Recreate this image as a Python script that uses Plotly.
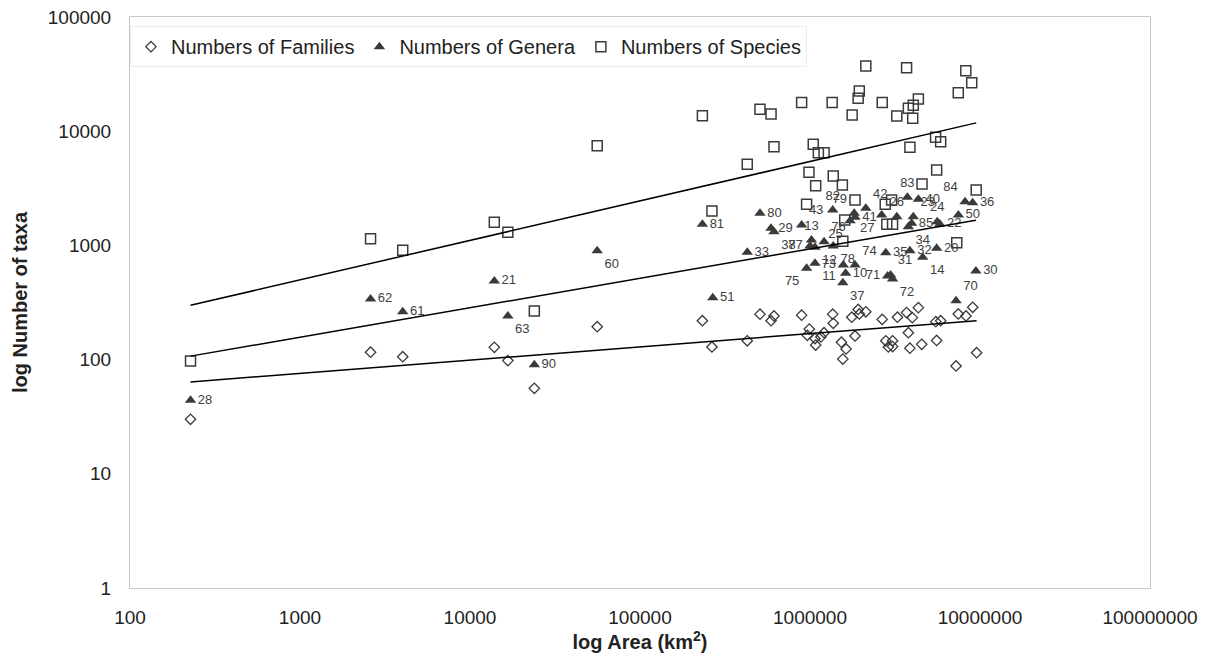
import numpy as np
import plotly.graph_objects as go

# ---------------- data ----------------
fam_area = [227, 2600, 4020, 13900, 16700, 23900, 56000, 232800, 265000, 427500,
            508000, 590000, 614000, 893000, 990000, 964000, 1070000, 1080000, 1160000, 1210000,
            1360000, 1370000, 1530000, 1630000, 1560000, 1760000, 1840000, 1920000, 1950000, 2130000,
            2660000, 2790000, 2890000, 3060000, 3060000, 3270000, 3700000, 3790000, 4000000, 3870000,
            4340000, 4540000, 5500000, 5870000, 5560000, 7230000, 7450000, 8270000, 9060000, 9550000]
fam_vals = [30, 116, 106, 128, 98, 56, 194, 219, 129, 146,
            250, 219, 241, 245, 185, 163, 153, 134, 158, 172,
            250, 208, 142, 124, 101, 235, 161, 275, 251, 262,
            225, 146, 129, 146, 130, 235, 258, 172, 233, 126,
            285, 136, 215, 219, 147, 88, 251, 241, 287, 115]

gen_labels = ["28", "62", "61", "21", "63", "90", "60", "81", "51", "33",
              "80", "29", "38", "43", "75", "77", "13", "12", "11", "76",
              "82", "78", "37", "73", "10", "79", "41", "74", "25", "42",
              "27", "26", "83", "40", "23", "85", "34", "24", "22", "50",
              "84", "36", "35", "32", "20", "14", "71", "31", "72", "30", "70"]
gen_area = [227, 2600, 4020, 13900, 16700, 23900, 56000, 232800, 268000, 427500,
            508000, 590000, 614000, 893000, 955000, 1000000, 1020000, 1070000, 1070000, 1210000,
            1360000, 1370000, 1560000, 1570000, 1620000, 1820000, 1840000, 1840000, 1720000, 2130000,
            2640000, 3240000, 3740000, 4340000, 4050000, 3960000, 3790000, 5600000, 5800000, 7460000,
            8170000, 9050000, 2790000, 3870000, 5560000, 4600000, 2860000, 2980000, 3060000, 9460000, 7230000]
gen_vals = [44, 340, 262, 488, 241, 90, 900, 1530, 348, 871,
            1910, 1413, 1318, 1510, 631, 990, 1115, 962, 697, 1077,
            2040, 990, 471, 673, 570, 1910, 1760, 673, 1640, 2110,
            1845, 1782, 2640, 2535, 1782, 1560, 1460, 1615, 1540, 1845,
            2415, 2365, 863, 900, 944, 787, 540, 551, 508, 597, 328]
gen_textpos = ["middle right", "middle right", "middle right", "middle right", "bottom right",
               "middle right", "bottom right", "middle right", "middle right", "middle right",
               "middle right", "middle right", "bottom right", "top right", "bottom left",
               "middle left", "top center", "bottom right", "bottom right", "top right",
               "top center", "bottom right", "bottom right", "middle left", "middle right",
               "top left", "middle right", "top right", "bottom left", "top right",
               "bottom left", "top center", "top center", "middle right", "top right",
               "middle right", "bottom right", "top center", "middle right", "middle right",
               "top left", "middle right", "middle right", "middle right", "middle right",
               "bottom right", "middle left", "top right", "bottom right", "middle right", "top right"]

spe_area = [227, 2600, 4020, 13900, 16700, 23900, 56000, 232800, 265000, 427500,
            508000, 590000, 614000, 893000, 955000, 986000, 1045000, 1080000, 1120000, 1210000,
            1350000, 1370000, 1550000, 1560000, 1600000, 1770000, 1840000, 1920000, 1950000, 2130000,
            2660000, 2770000, 2830000, 3020000, 3060000, 3240000, 3700000, 3790000, 3870000, 4020000,
            4050000, 4340000, 4560000, 5480000, 5560000, 5870000, 7300000, 7450000, 8250000, 8940000, 9500000]
spe_vals = [97, 1146, 906, 1593, 1303, 267, 7460, 13680, 2000, 5130,
            15600, 14170, 7310, 17800, 2290, 4360, 7670, 3330, 6490, 6490,
            17800, 4050, 3380, 1087, 1667, 13870, 2500, 19400, 22500, 37200,
            17800, 2290, 1530, 2500, 1530, 13590, 36000, 15850, 7230, 12970,
            16900, 19100, 3450, 8860, 4570, 8090, 1056, 21700, 33900, 26600, 3055]

# power trendlines y = a * x^b, coefficients
trend_a = [34.0, 26.5, 45.8]      # families, genera, species
trend_b = [0.116, 0.2577, 0.3457]

x_tickvals = [100, 1000, 10000, 100000, 1000000, 10000000, 100000000]
x_ticktext = ["100", "1000", "10000", "100000", "1000000", "10000000", "100000000"]
y_tickvals = [1, 10, 100, 1000, 10000, 100000]
y_ticktext = ["1", "10", "100", "1000", "10000", "100000"]

# ---------------- figure ----------------
FONT = "Liberation Sans, Arial, sans-serif"
MARK = "#3a3a3a"

fig = go.Figure()

fig.add_trace(go.Scatter(x=fam_area, y=fam_vals, mode="markers", name="Numbers of Families",
                         marker=dict(symbol="diamond-open", size=8, color=MARK, line=dict(width=1.3, color=MARK))))
fig.add_trace(go.Scatter(x=gen_area, y=gen_vals, mode="markers+text", name="Numbers of Genera",
                         text=gen_labels, textposition=gen_textpos,
                         textfont=dict(family=FONT, size=13, color="#404040"),
                         marker=dict(symbol="triangle-up", size=10, color=MARK)))
fig.add_trace(go.Scatter(x=spe_area, y=spe_vals, mode="markers", name="Numbers of Species",
                         marker=dict(symbol="square-open", size=10, color=MARK, line=dict(width=1.5, color=MARK))))

for xs, a, b in [(fam_area, trend_a[0], trend_b[0]),
                 (gen_area, trend_a[1], trend_b[1]),
                 (spe_area, trend_a[2], trend_b[2])]:
    tx = np.array([min(xs), max(xs)], dtype=float)
    ty = a * tx ** b
    fig.add_trace(go.Scatter(x=tx, y=ty, mode="lines", showlegend=False, hoverinfo="skip",
                             line=dict(color="black", width=1.5)))

fig.update_layout(
    width=1205, height=672,
    margin=dict(l=130, r=55, t=17, b=84),
    paper_bgcolor="white", plot_bgcolor="white",
    font=dict(family=FONT, size=19, color="#222222"),
    legend=dict(orientation="h", x=0.0, y=0.984, xanchor="left", yanchor="top",
                bgcolor="white", bordercolor="#ececec", borderwidth=1,
                font=dict(family=FONT, size=20, color="#222222"), itemwidth=30),
    xaxis=dict(type="log", range=[2, 8], tickvals=x_tickvals, ticktext=x_ticktext,
               showgrid=False, zeroline=False, showline=True, linecolor="#c8c8c8", linewidth=1,
               mirror=True, ticks="", tickfont=dict(size=19), automargin=False,
               ticklabelstandoff=12,
               title=dict(text="<b>log Area (km<sup>2</sup>)</b>", font=dict(size=20), standoff=6)),
    yaxis=dict(type="log", range=[0, 5], tickvals=y_tickvals, ticktext=y_ticktext,
               showgrid=False, zeroline=False, showline=True, linecolor="#c8c8c8", linewidth=1,
               mirror=True, ticks="", tickfont=dict(size=19), automargin=False,
               ticklabelstandoff=14,
               title=dict(text="<b>log Number of taxa</b>", font=dict(size=20), standoff=14)),
)

fig.write_html("out.html", config={"displayModeBar": False},
               post_script="document.body.style.margin='0';document.body.style.overflow='hidden';")
